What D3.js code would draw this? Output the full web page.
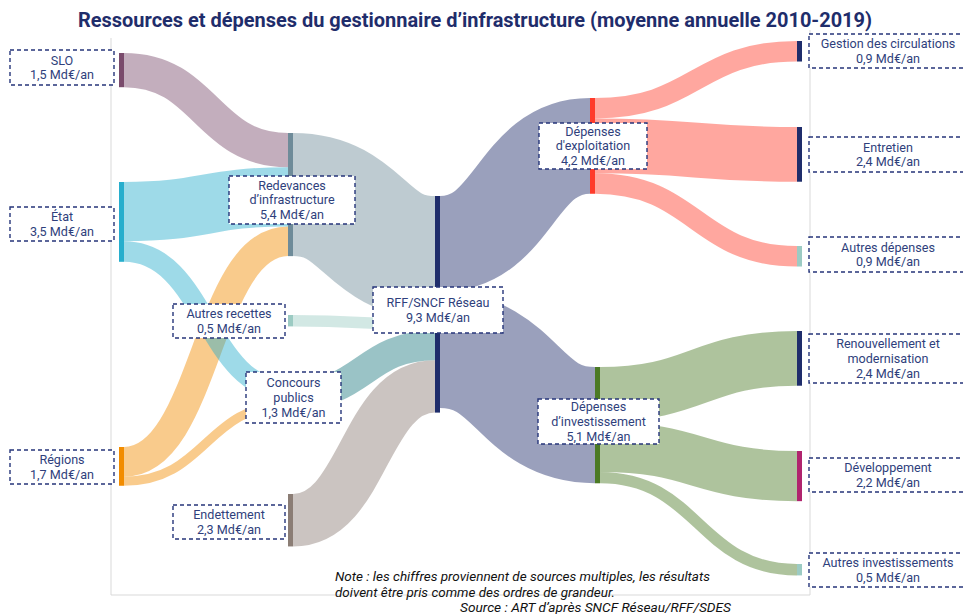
<!DOCTYPE html>
<html>
<head>
<meta charset="utf-8">
<script src="https://cdn.jsdelivr.net/npm/d3@7"></script>
<style>
  body { margin: 0; background: #fff; }
  svg { display: block; font-family: Roboto, "Noto Sans", sans-serif; }
</style>
</head>
<body>
<div class="chart"></div>
<script>
// Data

const nodeNames = ["SLO", "État", "Régions", "Redevances", "Autres recettes", "Concours publics",
  "Endettement", "RFF/SNCF Réseau", "Dépenses d'exploitation", "Dépenses d'investissement",
  "Gestion des circulations", "Entretien", "Autres dépenses", "Renouvellement et modernisation",
  "Développement", "Autres investissements"];

// values written in the boxes (Md€/an)
const nodeValues = [1.5, 3.5, 1.7, 5.4, 0.5, 1.3, 2.3, 9.3, 4.2, 5.1, 0.9, 2.4, 0.9, 2.4, 2.2, 0.5];

const labelLines = [["SLO"], ["État"], ["Régions"], ["Redevances", "d’infrastructure"],
  ["Autres recettes"], ["Concours", "publics"], ["Endettement"], ["RFF/SNCF Réseau"],
  ["Dépenses", "d'exploitation"], ["Dépenses", "d’investissement"], ["Gestion des circulations"],
  ["Entretien"], ["Autres dépenses"], ["Renouvellement et", "modernisation"], ["Développement"],
  ["Autres investissements"]];

// flows, in drawing order (Régions drawn under État)
const linkSource = ["Régions", "Régions", "SLO", "État", "État",
  "Redevances", "Autres recettes", "Concours publics", "Endettement",
  "RFF/SNCF Réseau", "RFF/SNCF Réseau",
  "Dépenses d'exploitation", "Dépenses d'exploitation", "Dépenses d'exploitation",
  "Dépenses d'investissement", "Dépenses d'investissement", "Dépenses d'investissement"];
const linkTarget = ["Redevances", "Concours publics", "Redevances", "Redevances", "Concours publics",
  "RFF/SNCF Réseau", "RFF/SNCF Réseau", "RFF/SNCF Réseau", "RFF/SNCF Réseau",
  "Dépenses d'exploitation", "Dépenses d'investissement",
  "Gestion des circulations", "Entretien", "Autres dépenses",
  "Renouvellement et modernisation", "Développement", "Autres investissements"];
const linkValues = [1.3, 0.4, 1.5, 2.6, 0.9, 5.4, 0.5, 1.3, 2.3, 4.2, 5.1, 0.9, 2.4, 0.9, 2.4, 2.2, 0.5];

const nodeColors = ["#7a4b6c", "#27aecd", "#f28c00", "#6e8b99", "#9ccbc3", "#1e7b80", "#8b7d75",
  "#1f2d6b", "#ff3b2b", "#4b7a25", "#1f2d6b", "#1f2d6b", "#9ccbc3", "#1f2d6b", "#b0246e", "#9ccbc3"];

// Layout: bar x, bar top, label box [x0, y0, x1, y1]
const layout = {
  "SLO": {x: 119, y: 53, box: [10, 50, 114, 85]},
  "État": {x: 119, y: 182, box: [10, 207, 114, 241]},
  "Régions": {x: 119, y: 447, box: [10, 450, 114, 484]},
  "Redevances": {x: 288, y: 133, box: [229, 176, 355, 224]},
  "Autres recettes": {x: 288, y: 315, box: [173, 304, 285, 338]},
  "Concours publics": {x: 288, y: 380, box: [246, 372, 341, 423]},
  "Endettement": {x: 288, y: 494, box: [173, 505, 285, 539]},
  "RFF/SNCF Réseau": {x: 435, y: 196, box: [373, 287, 503, 333]},
  "Dépenses d'exploitation": {x: 590, y: 98, box: [539, 123, 647, 169]},
  "Dépenses d'investissement": {x: 595, y: 367, box: [538, 399, 659, 444]},
  "Gestion des circulations": {x: 797, y: 41, box: [809, 34, 967, 68]},
  "Entretien": {x: 797, y: 127, box: [809, 137, 967, 172]},
  "Autres dépenses": {x: 797, y: 246, box: [809, 237, 967, 272]},
  "Renouvellement et modernisation": {x: 797, y: 331, box: [809, 334, 967, 383]},
  "Développement": {x: 797, y: 451, box: [809, 458, 967, 492]},
  "Autres investissements": {x: 797, y: 564, box: [809, 553, 967, 587]}
};

const width = 963;
const height = 614;
const barWidth = 5;
const navy = "#1f2d6b";

const svg = d3.select(".chart").append("svg")
    .attr("width", width)
    .attr("height", height);

// value -> thickness
const vScale = d3.scaleLinear().domain([0, 10]).range([0, 228]);

const fmt = v => d3.format(".1f")(v).replace(".", ",") + " Md€/an";

// Build nodes and links
const nodes = nodeNames.map((name, i) => ({
  name, index: i, value: nodeValues[i], color: nodeColors[i],
  lines: labelLines[i], ...layout[name], inLinks: [], outLinks: []
}));
const byName = new Map(nodes.map(n => [n.name, n]));

const links = linkSource.map((s, i) => ({
  source: byName.get(s), target: byName.get(linkTarget[i]), value: linkValues[i]
}));
links.forEach(l => { l.source.outLinks.push(l); l.target.inLinks.push(l); });

nodes.forEach(n => {
  const vin = d3.sum(n.inLinks, l => l.value);
  const vout = d3.sum(n.outLinks, l => l.value);
  n.h = vScale(Math.max(vin, vout));
  // stack flows inside each bar, ordered by the other end
  let y = n.y;
  n.outLinks.sort((a, b) => a.target.index - b.target.index).forEach(l => {
    l.y0 = y + vScale(l.value) / 2; y += vScale(l.value);
  });
  y = n.y;
  n.inLinks.sort((a, b) => a.source.index - b.source.index).forEach(l => {
    l.y1 = y + vScale(l.value) / 2; y += vScale(l.value);
  });
});

// Frame
svg.append("path")
    .attr("d", "M111,38V595H810V30")
    .attr("fill", "none")
    .attr("stroke", "#d9d9d9")
    .attr("stroke-width", 1);

// Title
svg.append("text")
    .attr("x", 78)
    .attr("y", 27)
    .attr("textLength", 794)
    .attr("lengthAdjust", "spacingAndGlyphs")
    .attr("font-size", 20)
    .attr("font-weight", 700)
    .attr("fill", navy)
    .text("Ressources et dépenses du gestionnaire d’infrastructure (moyenne annuelle 2010-2019)");

// Links
const linkPath = d3.linkHorizontal().x(d => d[0]).y(d => d[1]);

svg.append("g")
    .attr("fill", "none")
  .selectAll("path")
  .data(links)
  .join("path")
    .attr("d", l => linkPath({source: [l.source.x + barWidth, l.y0], target: [l.target.x, l.y1]}))
    .attr("stroke", l => l.source.color)
    .attr("stroke-opacity", 0.45)
    .attr("stroke-width", l => vScale(l.value));

// Node bars
svg.append("g")
  .selectAll("rect")
  .data(nodes)
  .join("rect")
    .attr("x", n => n.x)
    .attr("y", n => n.y)
    .attr("width", barWidth)
    .attr("height", n => n.h)
    .attr("fill", n => n.color);

// Labels
const label = svg.append("g")
  .selectAll("g")
  .data(nodes)
  .join("g");

label.append("rect")
    .attr("x", n => n.box[0])
    .attr("y", n => n.box[1])
    .attr("width", n => n.box[2] - n.box[0])
    .attr("height", n => n.box[3] - n.box[1])
    .attr("fill", "#fff")
    .attr("stroke", "#26357a")
    .attr("stroke-width", 1.4)
    .attr("stroke-dasharray", "4 3");

const lineH = 14.8;
label.each(function(n) {
  const lines = n.lines.concat([fmt(n.value)]);
  const cx = n.box[0] > 800 ? 888 : (n.box[0] + n.box[2]) / 2;
  const cy = (n.box[1] + n.box[3]) / 2;
  d3.select(this).append("text")
      .attr("text-anchor", "middle")
      .attr("font-size", 12.6)
      .attr("fill", "#2f3f7c")
    .selectAll("tspan")
    .data(lines)
    .join("tspan")
      .attr("x", cx)
      .attr("y", (d, i) => cy + (i - (lines.length - 1) / 2) * lineH)
      .attr("dy", "0.35em")
      .text(d => d);
});

// Note and source
const note = svg.append("g")
    .attr("font-size", 12)
    .attr("font-style", "italic")
    .attr("fill", "#111");

note.append("text")
    .attr("x", 335).attr("y", 581)
    .attr("textLength", 375).attr("lengthAdjust", "spacingAndGlyphs")
    .text("Note : les chiffres proviennent de sources multiples, les résultats");
note.append("text")
    .attr("x", 335).attr("y", 597)
    .attr("textLength", 280).attr("lengthAdjust", "spacingAndGlyphs")
    .text("doivent être pris comme des ordres de grandeur.");
note.append("text")
    .attr("x", 460).attr("y", 612)
    .attr("textLength", 271).attr("lengthAdjust", "spacingAndGlyphs")
    .text("Source : ART d’après SNCF Réseau/RFF/SDES");
</script>
</body>
</html>
